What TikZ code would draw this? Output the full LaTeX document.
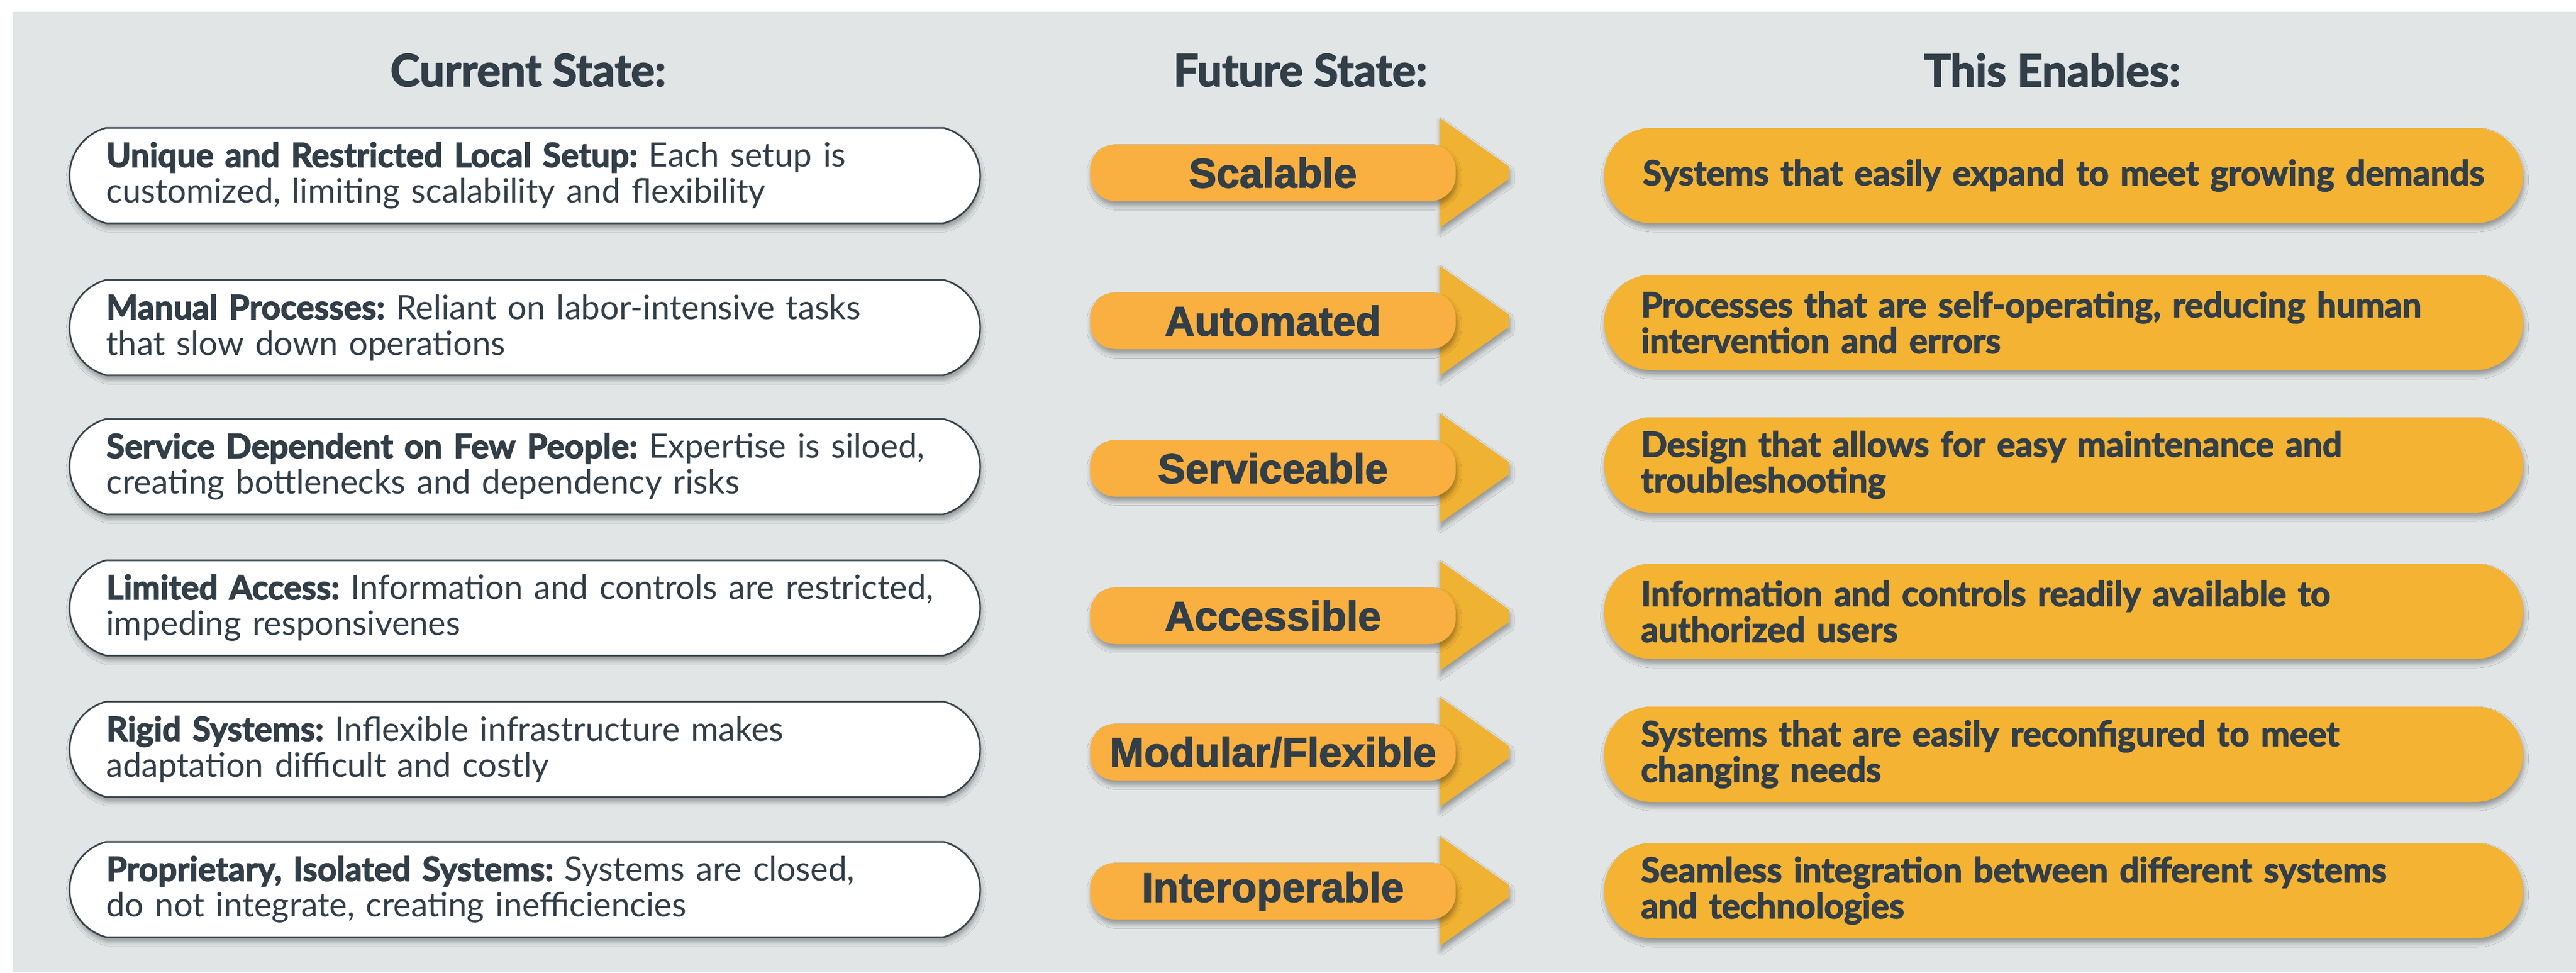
\documentclass[tikz,border=0pt]{standalone}
\usepackage{fontspec}
\setmainfont{Lato}[BoldFeatures={FakeBold=2.5}]
\newfontfamily\arrowfont{Liberation Sans}[BoldFeatures={FakeBold=2}]
\usetikzlibrary{shapes.misc,positioning,shadows.blur}
\frenchspacing

\definecolor{bggrey}{HTML}{E1E5E6}
\definecolor{inkgrey}{HTML}{323E48}
\definecolor{edgegrey}{HTML}{3A444C}
\definecolor{boxorange}{HTML}{F4B333}
\definecolor{bodyorange}{HTML}{FAB040}
\definecolor{headorange}{HTML}{F0B232}

\begin{document}
\begin{tikzpicture}[
  softshadow/.style={blur shadow={shadow xshift=0.02cm,shadow yshift=-0.08cm,shadow blur radius=0.08cm,shadow blur steps=6,shadow opacity=35}},
  headlabel/.style={text=inkgrey,font=\fontsize{22.5}{26}\selectfont\bfseries},
  nowbox/.style={rounded rectangle,rounded rectangle arc length=150,draw=edgegrey,line width=0.03cm,fill=white,softshadow,minimum height=1.7cm,minimum width=16.36cm,text width=14.93cm,inner xsep=0.06cm,align=left,text=inkgrey,font=\fontsize{17}{18.2}\selectfont},
  thenbox/.style={rectangle,rounded corners=0.85cm,fill=boxorange,softshadow,minimum height=1.7cm,text width=15.07cm,inner xsep=0.66cm,align=left,text=inkgrey,font=\fontsize{17.5}{18.2}\selectfont\bfseries},
  futurebody/.style={rectangle,rounded corners=0.45cm,fill=bodyorange,softshadow,minimum width=6.52cm,minimum height=1.01cm,inner sep=0pt,text=inkgrey,font=\arrowfont\fontsize{21}{24}\selectfont\bfseries},
  futurehead/.style={fill=headorange,softshadow}
]
\useasboundingbox (0,0) rectangle (45.94,-17.34);
\fill[bggrey] (0.23,-0.21) rectangle (45.94,-17.34);

% column titles
\node[headlabel] (current) at (9.42,-1.25) {Current State:};
\node[headlabel] (future) at (23.19,-1.25) {Future State:};
\node[headlabel] (enables) at (36.60,-1.25) {This Enables:};

% current state
\node[nowbox] (now1) at (9.36,-3.13) {\textbf{Unique and Restricted Local Setup:} Each setup is\\customized, limiting scalability and flexibility};
\node[nowbox] (now2) at (9.36,-5.84) {\textbf{Manual Processes:} Reliant on labor-intensive tasks\\that slow down operations};
\node[nowbox] (now3) at (9.36,-8.32) {\textbf{Service Dependent on Few People:} Expertise is siloed,\\creating bottlenecks and dependency risks};
\node[nowbox] (now4) at (9.36,-10.84) {\textbf{Limited Access:} Information and controls are restricted,\\impeding responsivenes};
\node[nowbox] (now5) at (9.36,-13.36) {\textbf{Rigid Systems:} Inflexible infrastructure makes\\adaptation difficult and costly};
\node[nowbox] (now6) at (9.36,-15.86) {\textbf{Proprietary, Isolated Systems:} Systems are closed,\\do not integrate, creating inefficiencies};

% arrow heads first, bodies on top
\foreach \y in {-3.08,-5.72,-8.35,-10.98,-13.41,-15.89}
  \fill[futurehead] (25.67,\y+0.985) -- ++(1.24,-0.875) -- ++(0,-0.22) -- ++(-1.24,-0.875) -- cycle;

\node[futurebody] (fut1) at (22.70,-3.08) {Scalable};
\node[futurebody] (fut2) at (22.70,-5.72) {Automated};
\node[futurebody] (fut3) at (22.70,-8.35) {Serviceable};
\node[futurebody] (fut4) at (22.70,-10.98) {Accessible};
\node[futurebody] (fut5) at (22.70,-13.41) {Modular/Flexible};
\node[futurebody] (fut6) at (22.70,-15.89) {Interoperable};

% this enables
\node[thenbox,align=center] (then1) at (36.80,-3.13) {Systems that easily expand to meet growing demands};
\node[thenbox] (then2) at (36.80,-5.75) {Processes that are self-operating, reducing human\\intervention and errors};
\node[thenbox] (then3) at (36.80,-8.29) {Design that allows for easy maintenance and\\troubleshooting};
\node[thenbox] (then4) at (36.80,-10.90) {Information and controls readily available to\\authorized users};
\node[thenbox] (then5) at (36.80,-13.45) {Systems that are easily reconfigured to meet\\changing needs};
\node[thenbox] (then6) at (36.80,-15.88) {Seamless integration between different systems\\and technologies};

\end{tikzpicture}
\end{document}
